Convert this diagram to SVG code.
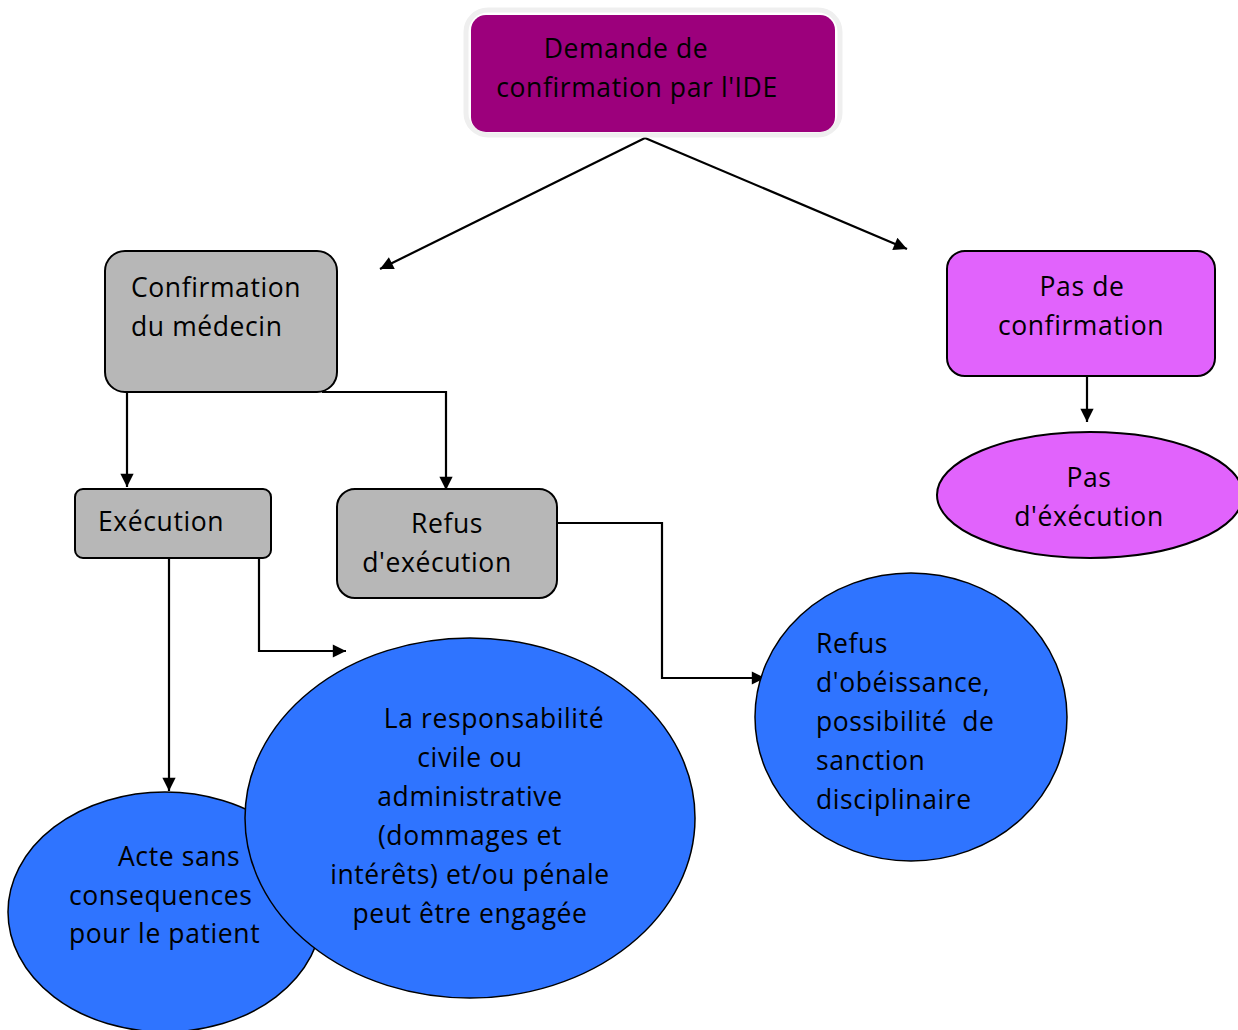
<svg xmlns="http://www.w3.org/2000/svg" width="1238" height="1030" viewBox="0 0 1238 1030">
<defs>
<marker id="ah" viewBox="0 0 10 10" refX="10" refY="5" markerWidth="6.5" markerHeight="6" markerUnits="strokeWidth" orient="auto">
<path d="M0,0 L10,5 L0,10 Z" fill="#000"/>
</marker>
<style>
text{font-family:"Open Sans","Noto Sans","Liberation Sans",sans-serif;font-size:26.5px;letter-spacing:0.6px;fill:#000}
.c{text-anchor:middle}
.grey{fill:#B7B7B7;stroke:#000;stroke-width:2}
.pink{fill:#E163FC;stroke:#000;stroke-width:2}
.blue{fill:#2F74FF;stroke:#000;stroke-width:1.5}
.con{fill:none;stroke:#000;stroke-width:2.2;marker-end:url(#ah)}
</style>
</defs>
<rect width="1238" height="1030" fill="#fff"/>
<g id="connectors">
<line class="con" x1="645" y1="138" x2="380" y2="269"/>
<line class="con" x1="645" y1="138" x2="907" y2="249"/>
<polyline class="con" points="127,392 127,487"/>
<polyline class="con" points="322,392 446,392 446,490"/>
<polyline class="con" points="1087,376 1087,422"/>
<polyline class="con" points="557,523 662,523 662,678 765,678"/>
<polyline class="con" points="169,558 169,791"/>
<polyline class="con" points="259,558 259,651 346,651"/>
</g>
<g id="demande">
<rect x="466" y="10" width="374" height="125" rx="22" fill="none" stroke="#EFEFEF" stroke-width="5"/>
<rect x="471" y="15" width="364" height="117" rx="15" fill="#9C007C"/>
<text x="626" y="58" class="c">Demande de</text>
<text x="637" y="97" class="c">confirmation par l'IDE</text>
</g>
<g id="confirmation">
<rect class="grey" x="105" y="251" width="232" height="141" rx="20"/>
<text x="131" y="297">Confirmation</text>
<text x="131" y="336">du médecin</text>
</g>
<g id="pasconf">
<rect class="pink" x="947" y="251" width="268" height="125" rx="18"/>
<text x="1082" y="296" class="c">Pas de</text>
<text x="1081" y="335" class="c">confirmation</text>
</g>
<g id="pasexec">
<ellipse class="pink" cx="1090" cy="495" rx="153" ry="63"/>
<text x="1089" y="487" class="c">Pas</text>
<text x="1089" y="526" class="c">d'éxécution</text>
</g>
<g id="execution">
<rect class="grey" x="75" y="489" width="196" height="69" rx="8"/>
<text x="98" y="531">Exécution</text>
</g>
<g id="refus">
<rect class="grey" x="337" y="489" width="220" height="109" rx="18"/>
<text x="447" y="533" class="c">Refus</text>
<text x="437" y="572" class="c">d'exécution</text>
</g>
<g id="obeissance">
<ellipse class="blue" cx="911" cy="717" rx="156" ry="144"/>
<text x="816" y="653">Refus</text>
<text x="816" y="692">d'obéissance,</text>
<text x="816" y="731" xml:space="preserve">possibilité  de</text>
<text x="816" y="770">sanction</text>
<text x="816" y="809">disciplinaire</text>
</g>
<g id="acte">
<ellipse class="blue" cx="165" cy="912" rx="157" ry="120"/>
<text x="118" y="866">Acte sans</text>
<text x="69" y="905">consequences</text>
<text x="69" y="943">pour le patient</text>
</g>
<g id="responsabilite">
<ellipse class="blue" cx="470" cy="818" rx="225" ry="180"/>
<text x="494" y="728" class="c">La responsabilité</text>
<text x="470" y="767" class="c">civile ou</text>
<text x="470" y="806" class="c">administrative</text>
<text x="470" y="845" class="c">(dommages et</text>
<text x="470" y="884" class="c">intérêts) et/ou pénale</text>
<text x="470" y="923" class="c">peut être engagée</text>
</g>
</svg>
